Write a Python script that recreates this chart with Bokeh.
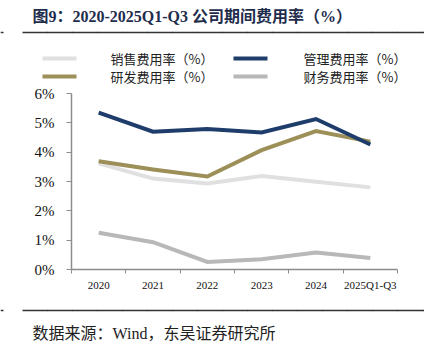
from bokeh.plotting import figure
from bokeh.models import Range1d, FixedTicker
from bokeh.layouts import column
from bokeh.core.properties import value
from bokeh.embed import file_html
from bokeh.resources import INLINE

categories = ["2020", "2021", "2022", "2023", "2024", "2025Q1-Q3"]
sales = [3.62, 3.10, 2.93, 3.19, 2.99, 2.80]
admin = [5.35, 4.70, 4.79, 4.67, 5.13, 4.26]
rnd = [3.69, 3.41, 3.17, 4.07, 4.72, 4.36]
finance = [1.25, 0.93, 0.26, 0.35, 0.58, 0.39]
y_ticks = [0, 1, 2, 3, 4, 5, 6]
y_labels = ["0%", "1%", "2%", "3%", "4%", "5%", "6%"]
series_names = ["销售费用率（%）", "管理费用率（%）", "研发费用率（%）", "财务费用率（%）"]
title_text = "图9：2020-2025Q1-Q3 公司期间费用率（%）"
source_text = "数据来源：Wind，东吴证券研究所"

W = 430
colors = ["#e0e0e0", "#1f3d6b", "#9c8f58", "#b8b8b8"]
mixed = "Liberation Serif, Noto Sans CJK SC"


def canvas(top, bottom):
    f = figure(width=W, height=bottom - top, output_backend="svg", toolbar_location=None,
               x_range=Range1d(0, W), y_range=Range1d(bottom, top),
               x_axis_location=None, y_axis_location=None,
               min_border=0, min_border_left=0, min_border_right=0,
               min_border_top=0, min_border_bottom=0, frame_align=False)
    f.outline_line_color = None
    f.xgrid.visible = False
    f.ygrid.visible = False
    return f


def rule(f, y):
    stops = list(range(22, 423, 25)) + [423]
    for a, b in zip(stops[:-1], stops[1:]):
        f.line(x=[a, b + 0.5], y=[y, y], line_color="#333333", line_width=1.6)
    f.line(x=[0, 3], y=[y, y], line_color="#333333", line_width=1.6)


# ---------- header ----------
HT, HB = 0, 85
header = canvas(HT, HB)
header.text(x=[32], y=[16], text=[title_text], text_font=value(mixed), text_font_style="bold",
            text_font_size="16px", text_color="#1f2d4d", text_baseline="middle", text_align="left")
rule(header, 32)
leg_gx = [42, 233, 42, 233]
leg_tx = [110, 303, 110, 303]
leg_y = [58, 58, 76, 76]
for i in range(4):
    header.line(x=[leg_gx[i], leg_gx[i] + 34], y=[leg_y[i], leg_y[i]], line_color=colors[i], line_width=4)
header.text(x=leg_tx, y=leg_y, text=series_names, text_font=value("Noto Sans CJK SC"),
            text_font_size="13px", text_color="#222222", text_baseline="middle", text_align="left")

# ---------- main chart ----------
MT, MB = 85, 300
FL, FR, FT, FB = 71, 397, 93, 269
n = len(categories)
p = figure(width=W, height=MB - MT, output_backend="svg", toolbar_location=None,
           x_range=Range1d(0, n), y_range=Range1d(0, 6),
           min_border_left=FL, min_border_right=W - FR,
           min_border_top=FT - MT, min_border_bottom=MB - FB, frame_align=False)
p.outline_line_color = None
p.xgrid.visible = False
p.ygrid.visible = False

xs = [i + 0.5 for i in range(n)]
for vals, c in [(sales, colors[0]), (finance, colors[3]), (rnd, colors[2]), (admin, colors[1])]:
    p.line(xs, vals, line_color=c, line_width=4, line_join="miter")

axis_color = "#8c8c8c"
serif = "Liberation Serif"
xa = p.xaxis[0]
xa.ticker = FixedTicker(ticks=xs, minor_ticks=list(range(n + 1)))
xa.major_label_overrides = {x: c for x, c in zip(xs, categories)}
xa.major_tick_out = 0
xa.major_tick_in = 0
xa.minor_tick_out = 4
xa.minor_tick_in = 0
xa.minor_tick_line_color = axis_color
xa.axis_line_color = axis_color
xa.axis_line_width = 1.5
xa.major_label_text_font = serif
xa.major_label_text_font_size = "11px"
xa.major_label_text_color = "#111111"
xa.major_label_standoff = 5

ya = p.yaxis[0]
ya.ticker = FixedTicker(ticks=y_ticks)
ya.major_label_overrides = {t: l for t, l in zip(y_ticks, y_labels)}
ya.major_tick_out = 5
ya.major_tick_in = 0
ya.minor_tick_out = 0
ya.minor_tick_in = 0
ya.major_tick_line_color = axis_color
ya.axis_line_color = axis_color
ya.axis_line_width = 1.5
ya.major_label_text_font = serif
ya.major_label_text_font_size = "15px"
ya.major_label_text_color = "#111111"
ya.major_label_standoff = 12

# ---------- footer ----------
footer = canvas(MB, 354)
rule(footer, 310)
footer.text(x=[32], y=[333], text=[source_text], text_font=value(mixed), text_font_size="16px",
            text_color="#222222", text_baseline="middle", text_align="left")

layout = column(header, p, footer, spacing=0)
open("out.html", "w").write(file_html(layout, INLINE))
